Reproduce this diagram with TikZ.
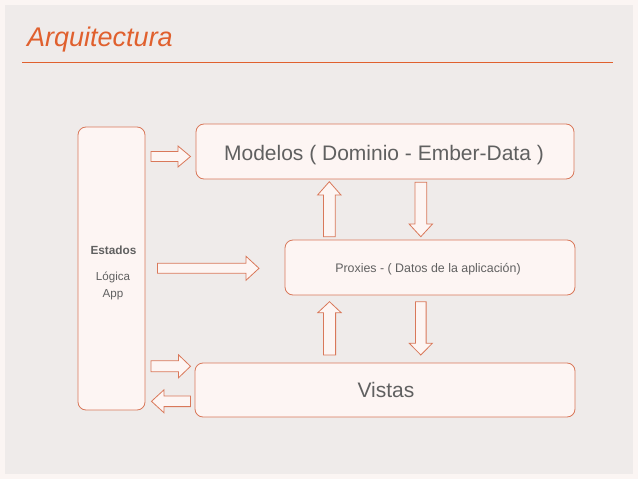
\documentclass[tikz,border=0pt]{standalone}
\usepackage{fontspec}
\setmainfont{Liberation Sans}
\definecolor{accent}{HTML}{E0602E}
\definecolor{edge}{HTML}{D9785A}
\definecolor{boxfill}{HTML}{FDF5F3}
\definecolor{panel}{HTML}{EFEBEA}
\definecolor{outer}{HTML}{FBF5F3}
\definecolor{txt}{HTML}{606060}
\newcommand\harrow[6]{% x-shaft-start, x-head-base, x-tip, y-center, shaft half, head half
  \draw[blk] (#1,#4-#5) -- (#2,#4-#5) -- (#2,#4-#6) -- (#3,#4) -- (#2,#4+#6) -- (#2,#4+#5) -- (#1,#4+#5) -- cycle;}
\newcommand\varrow[6]{% y-shaft-start, y-head-base, y-tip, x-center, shaft half, head half
  \draw[blk] (#4-#5,#1) -- (#4-#5,#2) -- (#4-#6,#2) -- (#4,#3) -- (#4+#6,#2) -- (#4+#5,#2) -- (#4+#5,#1) -- cycle;}
\begin{document}
\begin{tikzpicture}[x=1pt,y=-1pt,
  box/.style={draw=edge,fill=boxfill,line width=0.8pt,rounded corners=8pt},
  blk/.style={draw=edge,fill=boxfill,line width=0.8pt,line join=miter},
  lbl/.style={text=txt,inner sep=0pt}]
\useasboundingbox (0,0) rectangle (638,479);
\fill[outer] (0,0) rectangle (638,479);
\fill[panel] (5,5) rectangle (633,474);
\node[anchor=base west,text=accent,font=\fontsize{27}{29}\selectfont\itshape,inner sep=0pt] (title) at (27,46) {Arquitectura};
\draw[accent,line width=0.8pt] (22,62) -- (613,62);

\draw[box] (78,127) rectangle (145,410);
\draw[box] (196,124) rectangle (574,179);
\draw[box] (285,240) rectangle (575,295);
\draw[box] (195,363) rectangle (575,417);

\node[lbl,font=\fontsize{11.8}{14}\selectfont\bfseries] (estados) at (113.5,250) {Estados};
\node[lbl,font=\fontsize{11.6}{17}\selectfont,align=center] (logica) at (113,285.5) {Lógica\\App};
\node[lbl,font=\fontsize{21}{24}\selectfont] (modelos) at (384,155) {Modelos ( Dominio - Ember-Data )};
\node[lbl,font=\fontsize{12.4}{14}\selectfont] (proxies) at (428,269.5) {Proxies - ( Datos de la aplicación)};
\node[lbl,font=\fontsize{21}{24}\selectfont] (vistas) at (386,389.5) {Vistas};

\harrow{151}{178}{190.5}{156.5}{5}{10.5}
\harrow{157.5}{246}{259}{268.3}{5}{12}
\harrow{151}{178.5}{190.5}{366.3}{5.5}{11.5}
\harrow{190.5}{164}{151.5}{401.3}{5.3}{11.5}

\varrow{236.7}{195}{181.7}{329.3}{5.9}{11.7}
\varrow{182.3}{224}{236.7}{420.8}{5.9}{11.7}
\varrow{355}{312.7}{301.7}{329.5}{6.1}{11.7}
\varrow{301.7}{343.3}{355}{420.8}{5.3}{11.5}
\end{tikzpicture}
\end{document}
